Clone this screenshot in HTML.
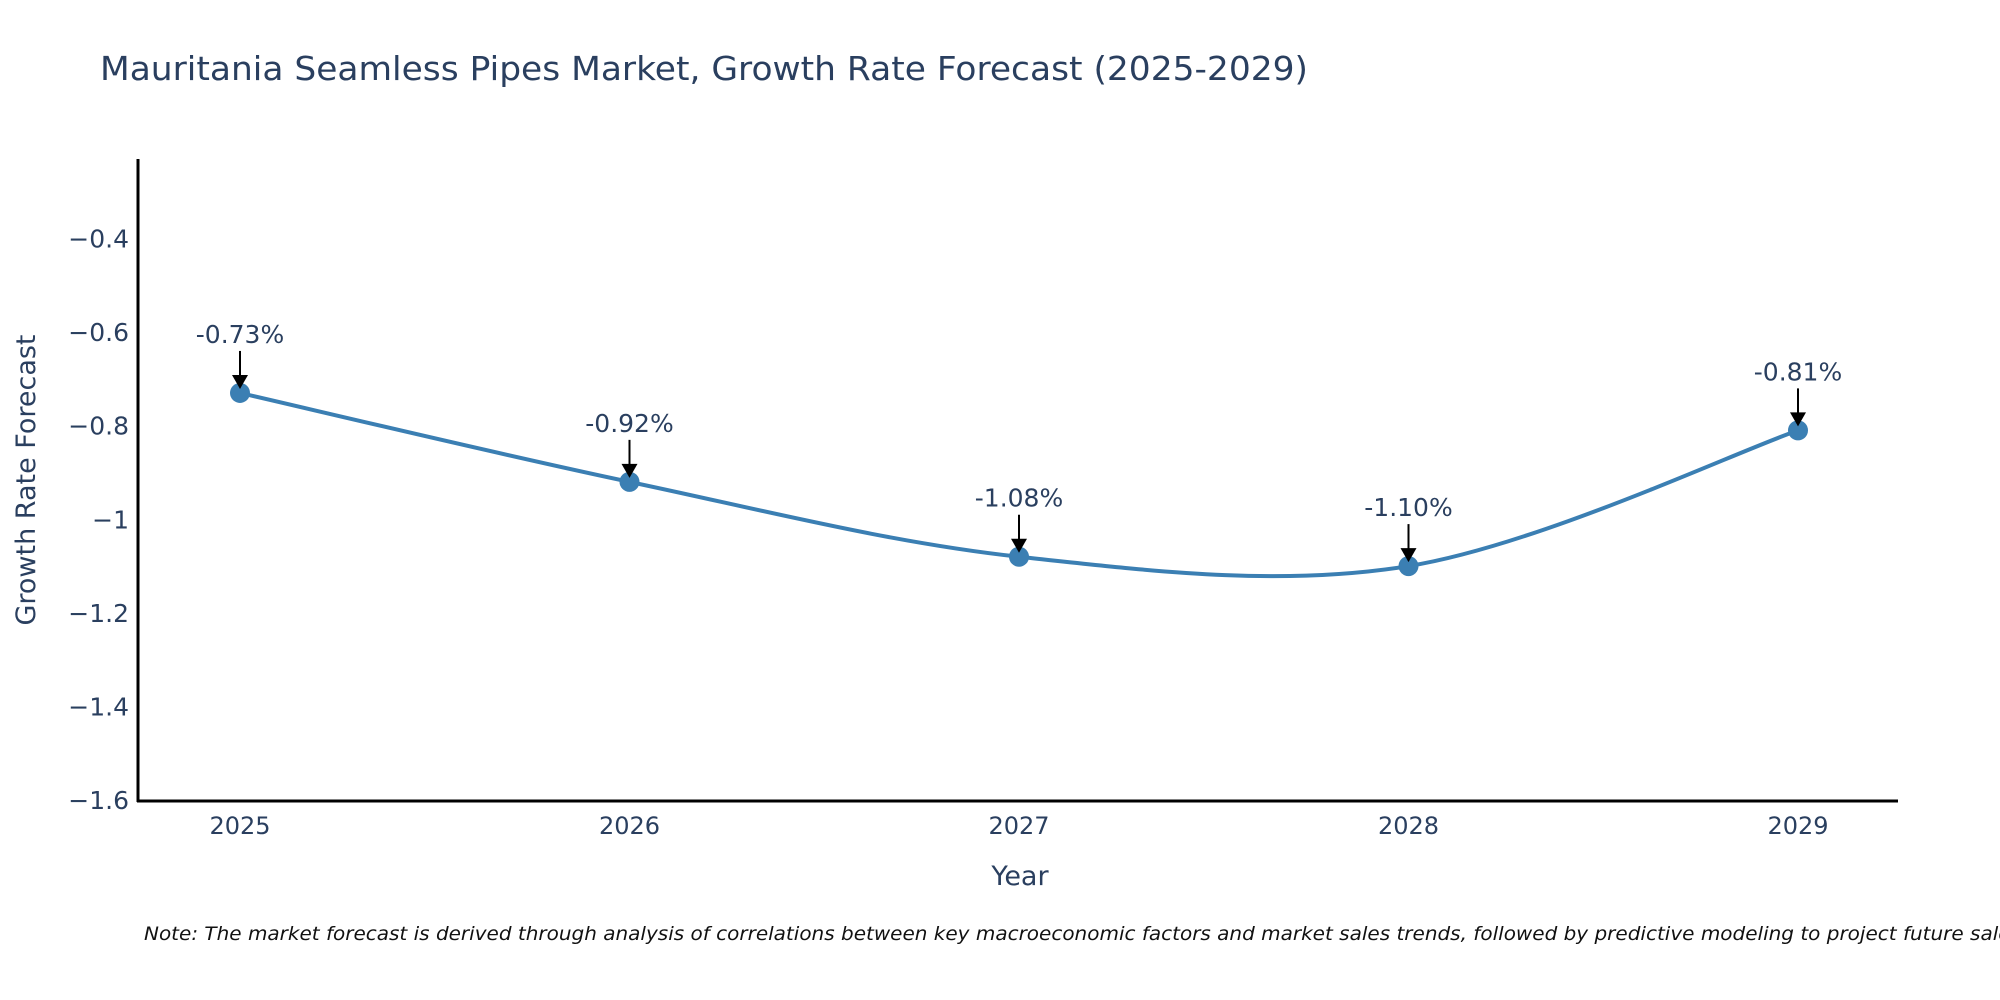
<!DOCTYPE html>
<html><head><meta charset="utf-8"><style>
html,body{margin:0;padding:0;background:#fff;}
svg{display:block;font-family:"DejaVu Sans","Liberation Sans",sans-serif;}
</style></head><body>
<svg id="chart" width="2000" height="1000">
<text x="100" y="80" font-size="33" textLength="1208" lengthAdjust="spacingAndGlyphs" fill="#2a3f5f">Mauritania Seamless Pipes Market, Growth Rate Forecast (2025-2029)</text>
<g id="yticks"></g><g id="xticks"></g>
<line x1="138" y1="159" x2="138" y2="802" stroke="#000" stroke-width="3"/>
<line x1="137" y1="801" x2="1898" y2="801" stroke="#000" stroke-width="3"/>
<text transform="translate(35,480) rotate(-90)" text-anchor="middle" font-size="27" fill="#2a3f5f">Growth Rate Forecast</text>
<text x="1020" y="885" text-anchor="middle" font-size="27" fill="#2a3f5f">Year</text>
<g id="series"></g>
<text x="144" y="940" font-size="19" font-style="italic" textLength="1877" lengthAdjust="spacingAndGlyphs" fill="#111">Note: The market forecast is derived through analysis of correlations between key macroeconomic factors and market sales trends, followed by predictive modeling to project future sales</text>
</svg>
<script>
const years = [2025, 2026, 2027, 2028, 2029];
const growth = [-0.73, -0.92, -1.08, -1.10, -0.81];
const labels = ["-0.73%", "-0.92%", "-1.08%", "-1.10%", "-0.81%"];
const yTicks = [-0.4, -0.6, -0.8, -1, -1.2, -1.4, -1.6];
const yTickLabels = ["\u22120.4", "\u22120.6", "\u22120.8", "\u22121", "\u22121.2", "\u22121.4", "\u22121.6"];

const NS = "http://www.w3.org/2000/svg";
function xs(v){ return 240 + (v - 2025) * 389.5; }
function ys(v){ return 238.5 + (-0.4 - v) / 0.2 * 93.6; }
function mk(tag, attrs, parent){ const e = document.createElementNS(NS, tag); for (const k in attrs) e.setAttribute(k, attrs[k]); parent.appendChild(e); return e; }

const yg = document.getElementById('yticks');
yTicks.forEach((t, i) => {
  const e = mk('text', {x: 129, y: ys(t) + 9, 'text-anchor': 'end', 'font-size': 25, fill: '#2a3f5f'}, yg);
  
  
  e.textContent = yTickLabels[i];
});
const xg = document.getElementById('xticks');
years.forEach(y => {
  const e = mk('text', {x: xs(y), y: 834, 'text-anchor': 'middle', 'font-size': 24, fill: '#2a3f5f'}, xg);
  
  
  e.textContent = y;
});

const sg = document.getElementById('series');
const pts = years.map((y, i) => [xs(y), ys(growth[i])]);
let d = 'M' + pts[0][0] + ',' + pts[0][1];
for (let i = 0; i < pts.length - 1; i++) {
  const p0 = pts[Math.max(0, i - 1)], p1 = pts[i], p2 = pts[i + 1], p3 = pts[Math.min(pts.length - 1, i + 2)];
  const t = 1/6;
  const c1 = [p1[0] + (p2[0] - p0[0]) * t, p1[1] + (p2[1] - p0[1]) * t];
  const c2 = [p2[0] - (p3[0] - p1[0]) * t, p2[1] - (p3[1] - p1[1]) * t];
  d += ' C' + c1 + ' ' + c2 + ' ' + p2;
}
const line = mk('path', {d: d, fill: 'none', stroke: '#3b7fb3', 'stroke-width': 4}, sg);



pts.forEach((p, i) => {
  const c = mk('circle', {cx: p[0], cy: p[1], r: 10, fill: '#3b7fb3'}, sg);
  
  
  const a = mk('line', {x1: p[0], y1: p[1] - 42, x2: p[0], y2: p[1] - 14, stroke: '#000', 'stroke-width': 2}, sg);
  
  
  const h = mk('polygon', {points: (p[0]-8)+','+(p[1]-18)+' '+(p[0]+8)+','+(p[1]-18)+' '+p[0]+','+(p[1]-4), fill: '#000'}, sg);
  
  
  const t = mk('text', {x: p[0], y: p[1] - 50, 'text-anchor': 'middle', 'font-size': 25, fill: '#2a3f5f'}, sg);
  
  
  t.textContent = labels[i];
});
</script>
</body></html>
